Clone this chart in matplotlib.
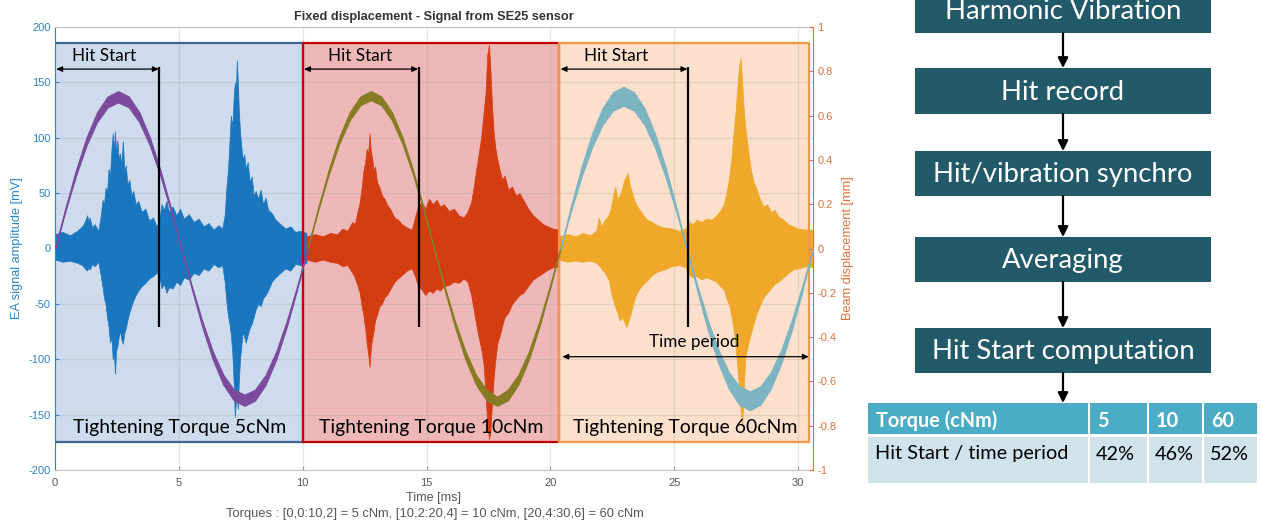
import matplotlib
matplotlib.use("Agg")
import matplotlib.pyplot as plt
from matplotlib.patches import Rectangle, FancyArrowPatch

# ------------------------------------------------------------------ data
# EA signal envelopes: (time ms, upper mV, lower mV)
blue_env = [
    (0.0, 13, -10), (0.3, 15, -12), (0.6, 12, -11), (0.9, 16, -13), (1.1, 20, -15),
    (1.2, 24, -18), (1.3, 30, -20), (1.34, 25, -17), (1.4, 28, -19), (1.5, 19, -14),
    (1.6, 22, -16), (1.75, 16, -12), (1.85, 30, -25), (1.92, 44, -35), (1.98, 40, -45),
    (2.04, 55, -50), (2.1, 50, -62), (2.16, 72, -70), (2.22, 65, -85), (2.28, 90, -80),
    (2.33, 104, -100), (2.38, 88, -95), (2.42, 106, -113), (2.47, 85, -92), (2.52, 98, -88),
    (2.57, 80, -80), (2.62, 86, -74), (2.68, 76, -82), (2.74, 97, -86), (2.8, 70, -76),
    (2.86, 75, -72), (2.92, 58, -65), (3.0, 62, -58), (3.08, 48, -52), (3.16, 52, -47),
    (3.26, 40, -42), (3.36, 43, -38), (3.5, 33, -34), (3.65, 36, -31), (3.8, 25, -27),
    (3.95, 28, -25), (4.1, 20, -22), (4.2, 24, -24), (4.3, 40, -36), (4.4, 35, -32),
    (4.5, 43, -40), (4.6, 33, -35), (4.75, 38, -36), (4.9, 30, -30), (5.05, 36, -33),
    (5.2, 27, -26), (5.4, 31, -28), (5.6, 24, -22), (5.8, 27, -24), (6.0, 20, -18),
    (6.2, 23, -20), (6.4, 17, -14), (6.6, 21, -17), (6.75, 18, -15), (6.85, 30, -30),
    (6.92, 55, -48), (6.98, 70, -60), (7.04, 95, -68), (7.1, 120, -78), (7.16, 110, -95),
    (7.21, 135, -120), (7.26, 150, -152), (7.3, 140, -140), (7.34, 170, -130), (7.38, 150, -145),
    (7.42, 125, -120), (7.47, 105, -100), (7.52, 92, -88), (7.58, 80, -75), (7.64, 85, -80),
    (7.7, 72, -85), (7.78, 78, -78), (7.86, 60, -72), (7.94, 65, -68), (8.02, 48, -62),
    (8.1, 52, -55), (8.2, 45, -50), (8.3, 53, -52), (8.4, 40, -45), (8.5, 46, -42),
    (8.6, 35, -38), (8.75, 32, -30), (8.9, 26, -26), (9.1, 22, -22), (9.3, 18, -18),
    (9.5, 20, -20), (9.7, 15, -14), (9.9, 16, -15), (10.15, 14, -13),
]
red_env = [
    (10.15, 11, -10), (10.5, 13, -12), (10.8, 11, -10), (11.1, 14, -12), (11.4, 13, -13),
    (11.6, 18, -16), (11.8, 16, -15), (12.0, 24, -22), (12.1, 22, -26), (12.2, 32, -33),
    (12.3, 42, -40), (12.38, 55, -52), (12.45, 70, -60), (12.52, 78, -72), (12.58, 90, -85),
    (12.64, 85, -95), (12.7, 104, -107), (12.75, 88, -90), (12.8, 82, -82), (12.86, 70, -75),
    (12.92, 74, -65), (13.0, 60, -60), (13.1, 55, -52), (13.2, 48, -50), (13.3, 45, -44),
    (13.4, 40, -42), (13.55, 35, -36), (13.7, 28, -30), (13.85, 26, -27), (14.0, 22, -24),
    (14.2, 19, -20), (14.4, 17, -18), (14.55, 30, -26), (14.65, 38, -34), (14.8, 42, -37),
    (14.95, 36, -42), (15.1, 45, -38), (15.25, 40, -40), (15.4, 44, -36), (15.55, 38, -38),
    (15.7, 40, -34), (15.9, 34, -33), (16.1, 36, -30), (16.3, 30, -31), (16.5, 28, -27),
    (16.65, 33, -30), (16.8, 42, -42), (16.9, 55, -55), (17.0, 71, -68), (17.1, 85, -80),
    (17.2, 100, -90), (17.3, 122, -104), (17.38, 140, -130), (17.45, 175, -160),
    (17.52, 184, -172), (17.58, 160, -165), (17.64, 130, -140), (17.7, 107, -119),
    (17.78, 90, -100), (17.86, 80, -85), (17.94, 72, -80), (18.05, 62, -70), (18.15, 66, -62),
    (18.3, 53, -58), (18.45, 56, -50), (18.6, 48, -46), (18.75, 50, -42), (18.9, 44, -40),
    (19.1, 36, -34), (19.3, 30, -28), (19.5, 26, -25), (19.7, 22, -22), (19.9, 20, -19),
    (20.1, 18, -17), (20.35, 17, -16),
]
orange_env = [
    (20.35, 11, -10), (20.7, 13, -12), (21.0, 11, -11), (21.3, 14, -12), (21.6, 12, -11),
    (21.85, 16, -13), (21.95, 28, -15), (22.05, 20, -18), (22.2, 26, -22), (22.35, 30, -28),
    (22.45, 38, -40), (22.55, 50, -48), (22.62, 56, -53), (22.7, 45, -58), (22.8, 48, -65),
    (22.9, 55, -62), (22.98, 62, -66), (23.05, 65, -71), (23.12, 68, -68), (23.2, 58, -62),
    (23.28, 52, -55), (23.36, 45, -48), (23.45, 40, -42), (23.6, 35, -36), (23.75, 30, -32),
    (23.9, 26, -29), (24.1, 24, -24), (24.3, 21, -21), (24.6, 19, -19), (24.9, 18, -16),
    (25.2, 16, -15), (25.45, 18, -17), (25.6, 24, -24), (25.75, 22, -26), (25.9, 26, -25),
    (26.1, 24, -28), (26.3, 27, -26), (26.5, 26, -28), (26.7, 30, -30), (26.85, 34, -34),
    (27.0, 40, -37), (27.1, 50, -45), (27.2, 62, -50), (27.3, 80, -60), (27.4, 107, -74),
    (27.48, 125, -90), (27.56, 150, -110), (27.62, 165, -130), (27.68, 172, -146),
    (27.74, 150, -160), (27.8, 128, -130), (27.86, 110, -100), (27.92, 100, -92),
    (28.0, 85, -85), (28.1, 70, -76), (28.2, 60, -68), (28.3, 55, -60), (28.45, 45, -52),
    (28.6, 38, -44), (28.75, 40, -40), (28.9, 33, -36), (29.05, 35, -32), (29.2, 29, -30),
    (29.4, 26, -26), (29.6, 22, -22), (29.8, 20, -19), (30.0, 18, -18), (30.3, 17, -16),
    (30.6, 17, -17),
]

# beam displacement bands (mm), one cycle each, sampled every 0.425 ms
cycle_t = [0.0, 0.425, 0.85, 1.275, 1.7, 2.125, 2.55, 2.975, 3.4, 3.825, 4.25, 4.675, 5.1,
           5.525, 5.95, 6.375, 6.8, 7.225, 7.65, 8.075, 8.5, 8.925, 9.35, 9.775, 10.2]
cycle_start = [0.0, 10.2, 20.4]
outer_5 = [0, .184, .355, .502, .615, .686, .71, .686, .615, .502, .355, .184, 0,
           -.184, -.355, -.502, -.615, -.686, -.71, -.686, -.615, -.502, -.355, -.184, 0]
inner_5 = [0, .171, .33, .467, .572, .638, .66, .638, .572, .467, .33, .171, 0,
           -.171, -.33, -.467, -.572, -.638, -.66, -.638, -.572, -.467, -.33, -.171, 0]
outer_10 = [0, .184, .355, .502, .615, .686, .71, .686, .615, .502, .355, .184, 0,
            -.184, -.355, -.502, -.615, -.686, -.71, -.686, -.615, -.502, -.355, -.184, 0]
inner_10 = [0, .173, .335, .474, .580, .647, .67, .647, .580, .474, .335, .173, 0,
            -.171, -.33, -.467, -.572, -.638, -.67, -.638, -.572, -.467, -.33, -.171, 0]
outer_60 = [0, .189, .365, .516, .632, .705, .73, .705, .632, .516, .365, .189, 0,
            -.189, -.365, -.516, -.632, -.705, -.73, -.705, -.632, -.516, -.365, -.189, 0]
inner_60 = [0, .167, .323, .456, .559, .623, .645, .623, .559, .456, .323, .167, 0,
            -.167, -.323, -.456, -.559, -.623, -.645, -.623, -.559, -.456, -.323, -.167, 0]

# torque regions (ms) and annotations
region_x = [(-0.08, 10.0), (10.0, 20.34), (20.36, 30.44)]
region_y = (-175, 186)
torque_labels = ["Tightening Torque 5cNm", "Tightening Torque 10cNm", "Tightening Torque 60cNm"]
torque_label_x = [5.05, 15.2, 25.45]
hit_start_t = [4.21, 14.68, 25.55]
hit_start_label_x = [2.0, 12.32, 22.64]
period_span = (20.48, 30.43)

xticks = [0, 5, 10, 15, 20, 25, 30]
yticks_left = [-200, -150, -100, -50, 0, 50, 100, 150, 200]
yticks_right = [-1, -0.8, -0.6, -0.4, -0.2, 0, 0.2, 0.4, 0.6, 0.8, 1]

steps = ["Harmonic Vibration", "Hit record", "Hit/vibration synchro", "Averaging",
         "Hit Start computation"]
table_header = ["Torque (cNm)", "5", "10", "60"]
table_row = ["Hit Start / time period", "42%", "46%", "52%"]

# ------------------------------------------------------------------ figure
W, H = 1261, 525
fig = plt.figure(figsize=(W / 100, H / 100), dpi=100)
fig.patch.set_facecolor("white")
renderer = fig.canvas.get_renderer()


def fx(px):
    return px / W


def fy(py):
    return 1 - py / H


def fit(text, target_px, family, weight="normal", ref=20.0):
    t = fig.text(0, 0, text, fontsize=ref, family=family, weight=weight)
    w = t.get_window_extent(renderer).width
    t.remove()
    return ref * target_px / w


SANS = ["Liberation Sans", "DejaVu Sans"]
CAL = ["Lato", "DejaVu Sans"]

C_LEFT = "#2A84CC"
C_RIGHT = "#E0703A"

ax = fig.add_axes([fx(55), fy(470), fx(813) - fx(55), fy(27) - fy(470)])
ax.set_xlim(0, 30.6)
ax.set_ylim(-200, 200)
ax.set_axisbelow(True)
ax.grid(True, color="#9A9A9A", alpha=0.25, lw=0.9)
ax.set_xticks(xticks)
ax.set_yticks(yticks_left)
ax.set_xticklabels([str(v) for v in xticks], family=SANS, fontsize=8, color="#555555")
ax.set_yticklabels([str(v) for v in yticks_left], family=SANS, fontsize=8, color=C_LEFT)
ax.tick_params(axis="x", direction="in", length=3, color="#9A9A9A", pad=6)
ax.tick_params(axis="y", direction="in", length=3, color=C_LEFT, pad=3)
for s in ("top", "bottom"):
    ax.spines[s].set_color("#C4C4C4")
ax.spines["left"].set_color(C_LEFT)
ax.spines["right"].set_visible(False)

# region boxes (fill)
fills = ["#C8D8EA", "#EBB0B0", "#FCDDC6"]
edges = ["#3E6598", "#C00000", "#F79646"]
for (x0, x1), fc in zip(region_x, fills):
    ax.add_patch(Rectangle((x0, region_y[0]), x1 - x0, region_y[1] - region_y[0],
                           facecolor=fc, edgecolor="none", alpha=0.9, zorder=0.2))

# EA signals
for env, c in [(blue_env, "#1A76BE"), (red_env, "#D43C12"), (orange_env, "#EFA82A")]:
    t = [e[0] for e in env]
    u = [e[1] for e in env]
    l = [e[2] for e in env]
    ax.fill_between(t, l, u, color=c, lw=0.5, edgecolor=c, zorder=2)

lab_fs = fit("EA signal amplitude [mV]", 142, SANS)
ax.set_xlabel("Time [ms]", family=SANS, fontsize=fit("Time [ms]", 55, SANS),
              color="#555555", labelpad=3)
ax.set_ylabel("EA signal amplitude [mV]", family=SANS, fontsize=lab_fs, color=C_LEFT,
              labelpad=4)

# right axis
ax2 = ax.twinx()
ax2.set_ylim(-1, 1)
ax2.set_yticks(yticks_right)
ax2.set_yticklabels([("%g" % v) for v in yticks_right], family=SANS, fontsize=8, color=C_RIGHT)
ax2.tick_params(axis="y", direction="in", length=3, color=C_RIGHT, pad=3)
for s in ("top", "bottom", "left"):
    ax2.spines[s].set_visible(False)
ax2.spines["right"].set_color(C_RIGHT)
ax2.set_ylabel("Beam displacement [mm]", family=SANS,
               fontsize=fit("Beam displacement [mm]", 143, SANS), color=C_RIGHT, labelpad=4)

band_colors = ["#7B4A9C", "#877C24", "#7CB4C2"]
for start, o, i, c in zip(cycle_start, [outer_5, outer_10, outer_60],
                          [inner_5, inner_10, inner_60], band_colors):
    tt = [start + v for v in cycle_t]
    ax2.fill_between(tt, i, o, color=c, lw=0.9, edgecolor=c, zorder=3)

# box edges on top
for (x0, x1), ec in zip(region_x, edges):
    ax.add_patch(Rectangle((x0, region_y[0]), x1 - x0, region_y[1] - region_y[0],
                           facecolor="none", edgecolor=ec, lw=1.6, zorder=4))


# annotations: convert left-axis values to right-axis units
def ly(v):
    return v / 200.0


fs_hit = fit("Hit Start", 64, CAL)
fs_tt = fit(torque_labels[0], 214, CAL)
for (x0, x1), ht, hx, lab, lx in zip(region_x, hit_start_t, hit_start_label_x,
                                     torque_labels, torque_label_x):
    ax2.plot([ht, ht], [ly(-71), ly(164)], color="black", lw=1.6, zorder=6,
             solid_capstyle="butt")
    ax2.add_patch(FancyArrowPatch((max(x0, 0) + 0.05, ly(162)), (ht - 0.02, ly(162)),
                                  arrowstyle="<|-|>,head_length=3.5,head_width=1.6",
                                  color="black", lw=0.9, zorder=6, shrinkA=0, shrinkB=0))
    ax2.text(hx, ly(174), "Hit Start", family=CAL, fontsize=fs_hit, ha="center",
             va="center", color="black", zorder=7)
    ax2.text(lx, ly(-162), lab, family=CAL, fontsize=fs_tt, ha="center", va="center",
             color="black", zorder=7)

ax2.add_patch(FancyArrowPatch((period_span[0], ly(-97.7)), (period_span[1], ly(-97.7)),
                              arrowstyle="<|-|>,head_length=3.5,head_width=1.6",
                              color="black", lw=0.9, zorder=6, shrinkA=0, shrinkB=0))
ax2.text(25.79, ly(-84), "Time period", family=CAL, fontsize=fs_hit, ha="center",
         va="center", color="black", zorder=7)

title = "Fixed displacement - Signal from SE25 sensor"
fig.text(fx(434), fy(17), title, family=SANS, weight="bold",
         fontsize=fit(title, 281, SANS, "bold"), ha="center", va="center", color="#333333")
cap = "Torques : [0,0:10,2] = 5 cNm, [10,2:20,4] = 10 cNm, [20,4:30,6] = 60 cNm"
fig.text(fx(435), fy(514), cap, family=SANS, fontsize=fit(cap, 415, SANS),
         ha="center", va="center", color="#555555")

# ------------------------------------------------------------------ flowchart & table
ov = fig.add_axes([0, 0, 1, 1])
ov.set_xlim(0, W)
ov.set_ylim(H, 0)
ov.axis("off")

box_top = [-12, 68, 151, 237, 328]
box_bot = [33, 114, 196, 282, 373]
bx0, bx1, bcx = 915, 1211, 1063
fs_box = fit("Hit Start computation", 263, CAL)
for i, (txt, t0, t1) in enumerate(zip(steps, box_top, box_bot)):
    ov.add_patch(Rectangle((bx0, t0), bx1 - bx0, t1 - t0, facecolor="#235A69",
                           edgecolor="none"))
    ov.text(bcx, (t0 + t1) / 2 + 1, txt, family=CAL, fontsize=fs_box, color="white",
            ha="center", va="center")
    nxt = box_top[i + 1] if i + 1 < len(box_top) else 403
    ov.add_patch(FancyArrowPatch((bcx, t1), (bcx, nxt),
                                 arrowstyle="-|>,head_length=6,head_width=3",
                                 color="black", lw=1.6, shrinkA=0, shrinkB=0))

col_x = [868, 1089, 1148, 1203, 1258]
hdr = (403, 434)
row = (437, 483)
fs_tab = fit("Hit Start / time period", 194, CAL)
for j in range(4):
    x0 = col_x[j] + (1 if j else 0)
    x1 = col_x[j + 1] - 1
    ov.add_patch(Rectangle((x0, hdr[0]), x1 - x0, hdr[1] - hdr[0], facecolor="#4BACC6",
                           edgecolor="none"))
    ov.add_patch(Rectangle((x0, row[0]), x1 - x0, row[1] - row[0], facecolor="#D0E3EA",
                           edgecolor="none"))
    ov.text(col_x[j] + 8, 421, table_header[j], family=CAL, weight="bold", fontsize=fs_tab,
            color="white", ha="left", va="center")
    ov.text(col_x[j] + 7, 454, table_row[j], family=CAL, fontsize=fs_tab, color="black",
            ha="left", va="center")

fig.savefig("out.png", dpi=100, facecolor="white")
